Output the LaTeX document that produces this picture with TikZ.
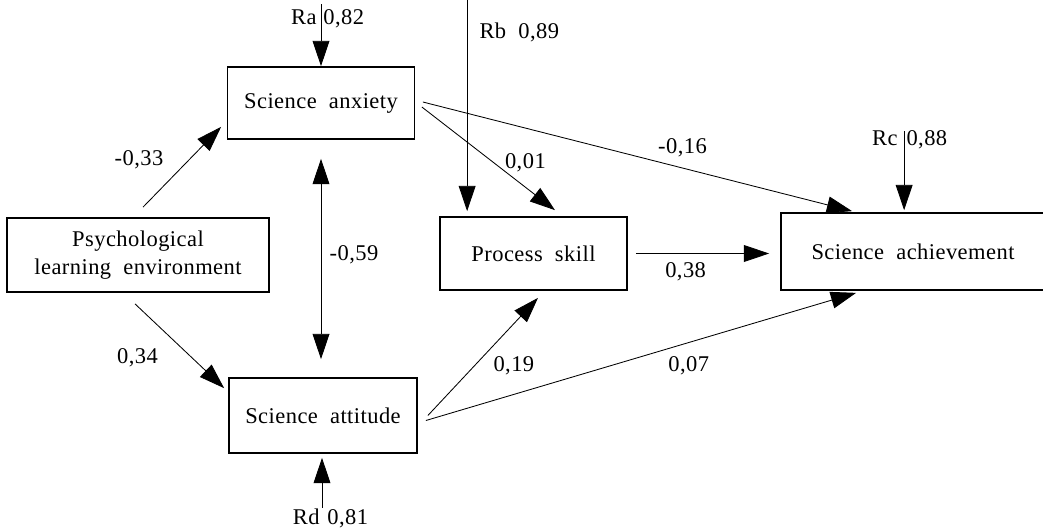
\documentclass[tikz,border=0pt]{standalone}
\usepackage{fontspec}
\setmainfont{Liberation Serif}[WordSpace=2, LetterSpace=2]
\usetikzlibrary{arrows.meta,calc}

\begin{document}
\begin{tikzpicture}[x=0.025cm, y=-0.025cm, >={Triangle[length=18pt,width=12pt]},
    every node/.style={font=\fontsize{16}{19.5}\selectfont},
    var/.style={draw, line width=1.2pt, inner sep=0pt, align=center},
    lbl/.style={inner sep=0pt},
    link/.style={line width=0.6pt}]
    \useasboundingbox (0,0) rectangle (1043,529);

    \node[var, minimum width=6.55cm, minimum height=1.85cm]   (psych) at (138,255)     {Psychological\\learning environment};
    \node[var, minimum width=4.675cm, minimum height=1.8cm]   (anx)   at (321,103)     {Science anxiety};
    \node[var, minimum width=4.7cm, minimum height=1.875cm]   (att)   at (323,415.5)   {Science attitude};
    \node[var, minimum width=4.675cm, minimum height=1.825cm] (proc)  at (533.5,253.5) {Process skill};
    \node[var, draw=none, minimum width=6.55cm, minimum height=1.875cm] (ach) at (913,251.5) {Science achievement};
    \draw[line width=1.2pt] ($(ach.north east)+(20,0)$) -- (ach.north west) -- (ach.south west) -- ($(ach.south east)+(20,0)$); % cut off at the right

    \coordinate (ra) at ($(anx.north)+(0,-62)$);
    \coordinate (rb) at ($(proc.north west)+(28,-217)$);
    \coordinate (rc) at ($(ach.north west)+(123,-82)$);
    \coordinate (rd) at ($(att.south)+(-1,54)$);

    \path[->, link]
    ($(psych.north)+(5,-10)$) edge node[lbl, xshift=-30.6pt, yshift=5pt] {-0,33} ($(anx.south west)+(-5.5,-13)$)
    ($(psych.south)+(-3,11)$) edge node[lbl, xshift=-29.9pt, yshift=-8.5pt] {0,34} ($(att.north west)+(-4,11)$)
    ($(anx.east)+(6.5,4)$) edge node[lbl, xshift=26.3pt, yshift=-2.8pt] {0,01} ($(proc.north)+(21.5,-6)$)
    ($(anx.east)+(7.5,-1)$) edge node[lbl, xshift=32pt, yshift=6.4pt] {-0,16} ($(ach.north west)+(71,-2)$)
    ($(proc.east)+(8,0)$) edge node[lbl, xshift=-12pt, yshift=-12.8pt] {0,38} ($(proc.east -| ach.west)+(-12,0)$)
    ($(att.east)+(10,0)$) edge node[lbl, xshift=22pt, yshift=-6.4pt] {0,19} ($(proc.south)+(4.5,7)$)
    ($(att.east)+(8,5)$) edge node[lbl, xshift=34pt, yshift=-6.4pt] {0,07} ($(ach.south west)+(75,3)$);
    \path[<->, link]
    ($(anx.south)+(0,19)$) edge node[lbl, xshift=23.5pt, yshift=2.8pt] {-0,59} ($(anx.south |- att.north)+(0,-18)$);

    % residuals
    \draw[->, link] (ra) -- (anx.north)
        node[lbl, pos=0, anchor=base east, xshift=-2.8pt, yshift=-14.2pt] {Ra}
        node[lbl, pos=0, anchor=base west, xshift=1.4pt, yshift=-14.2pt] {0,82};
    \draw[->, link] (rb) -- ($(proc.north west)+(28,-5)$)
        node[lbl, pos=0, anchor=base west, xshift=8.5pt, yshift=-27.7pt] {Rb~0,89};
    \draw[->, link] (rc) -- ($(ach.north west)+(123,-3)$)
        node[lbl, pos=0, anchor=base east, xshift=-4.3pt, yshift=-10pt] {Rc}
        node[lbl, pos=0, anchor=base west, xshift=1.4pt, yshift=-10pt] {0,88};
    \draw[->, link] (rd) -- ($(att.south)+(-1,4)$)
        node[lbl, pos=0, anchor=base east, xshift=-1.4pt, yshift=-12.1pt] {Rd}
        node[lbl, pos=0, anchor=base west, xshift=3.6pt, yshift=-12.1pt] {0,81};
\end{tikzpicture}
\end{document}
